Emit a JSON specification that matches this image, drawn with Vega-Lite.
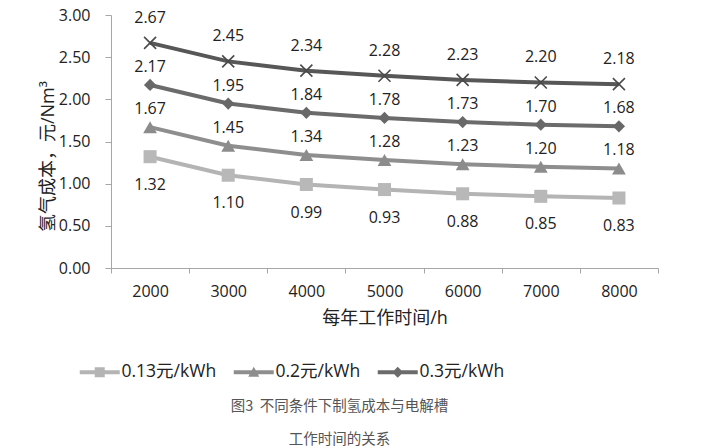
{
  "$schema": "https://vega.github.io/schema/vega-lite/v6.json",
  "width": 547,
  "height": 253,
  "autosize": "none",
  "padding": {"left": 111, "top": 15, "right": 44, "bottom": 180},
  "background": "white",
  "config": {
    "view": {"stroke": null},
    "font": "Open Sans, Noto Sans CJK SC",
    "axis": {"domainColor": "#a6a6a6", "tickColor": "#a6a6a6", "grid": false, "labelColor": "#222", "titleColor": "#222", "labelFont": "Open Sans, Noto Sans CJK SC", "titleFont": "Open Sans, Noto Sans CJK SC", "titleFontWeight": "normal"}
  },
  "title": {
    "text": ["图3\u00a0\u00a0不同条件下制氢成本与电解槽", "工作时间的关系"],
    "orient": "bottom",
    "anchor": "middle",
    "dx": -45,
    "offset": 19,
    "fontSize": 14.5,
    "lineHeight": 33,
    "fontWeight": "normal",
    "color": "#555",
    "font": "Noto Sans CJK SC"
  },
  "data": {
    "values": [
      {"h": "2000", "series": "0.13元/kWh", "v": 1.32},
      {"h": "3000", "series": "0.13元/kWh", "v": 1.10},
      {"h": "4000", "series": "0.13元/kWh", "v": 0.99},
      {"h": "5000", "series": "0.13元/kWh", "v": 0.93},
      {"h": "6000", "series": "0.13元/kWh", "v": 0.88},
      {"h": "7000", "series": "0.13元/kWh", "v": 0.85},
      {"h": "8000", "series": "0.13元/kWh", "v": 0.83},
      {"h": "2000", "series": "0.2元/kWh", "v": 1.67},
      {"h": "3000", "series": "0.2元/kWh", "v": 1.45},
      {"h": "4000", "series": "0.2元/kWh", "v": 1.34},
      {"h": "5000", "series": "0.2元/kWh", "v": 1.28},
      {"h": "6000", "series": "0.2元/kWh", "v": 1.23},
      {"h": "7000", "series": "0.2元/kWh", "v": 1.20},
      {"h": "8000", "series": "0.2元/kWh", "v": 1.18},
      {"h": "2000", "series": "0.3元/kWh", "v": 2.17},
      {"h": "3000", "series": "0.3元/kWh", "v": 1.95},
      {"h": "4000", "series": "0.3元/kWh", "v": 1.84},
      {"h": "5000", "series": "0.3元/kWh", "v": 1.78},
      {"h": "6000", "series": "0.3元/kWh", "v": 1.73},
      {"h": "7000", "series": "0.3元/kWh", "v": 1.70},
      {"h": "8000", "series": "0.3元/kWh", "v": 1.68},
      {"h": "2000", "series": "X", "v": 2.67},
      {"h": "3000", "series": "X", "v": 2.45},
      {"h": "4000", "series": "X", "v": 2.34},
      {"h": "5000", "series": "X", "v": 2.28},
      {"h": "6000", "series": "X", "v": 2.23},
      {"h": "7000", "series": "X", "v": 2.20},
      {"h": "8000", "series": "X", "v": 2.18}
    ]
  },
  "encoding": {
    "x": {
      "field": "h", "type": "nominal", "sort": null,
      "scale": {"type": "band", "paddingInner": 0, "paddingOuter": 0},
      "axis": {"labelAngle": 0, "tickBand": "extent", "tickSize": 5, "labelPadding": 10, "labelFontSize": 16, "title": "每年工作时间/h", "titleFontSize": 18, "titlePadding": 10}
    },
    "y": {
      "field": "v", "type": "quantitative",
      "scale": {"domain": [0, 3], "nice": false},
      "axis": {"values": [0, 0.5, 1, 1.5, 2, 2.5, 3], "format": ".2f", "tickSize": 6, "labelPadding": 15, "labelFontSize": 16, "title": "氢气成本，元/Nm³", "titleFontSize": 18, "titleX": -63, "titleY": 141, "titleBaseline": "middle", "titleAngle": -90}
    }
  },
  "layer": [
    {
      "mark": {"type": "line", "strokeWidth": 4},
      "encoding": {
        "color": {"field": "series", "type": "nominal", "scale": {"domain": ["0.13元/kWh", "0.2元/kWh", "0.3元/kWh", "X"], "range": ["#b4b4b4", "#8e8e8e", "#6b6b6b", "#575757"]}, "legend": {"orient": "none", "legendX": -20, "legendY": 348, "direction": "horizontal", "title": null, "values": ["0.13元/kWh", "0.2元/kWh", "0.3元/kWh"], "symbolSize": 100, "symbolStrokeWidth": 0, "symbolOpacity": 1, "labelFontSize": 17.5, "labelFont": "Open Sans, Noto Sans CJK SC", "labelColor": "#222", "labelOffset": 13, "columnPadding": 16}}
      }
    },
    {
      "transform": [{"filter": "datum.series === '0.13元/kWh'"}],
      "mark": {"type": "point", "shape": "square", "filled": true, "opacity": 1, "size": 170, "color": "#b8b8b8"}
    },
    {
      "transform": [{"filter": "datum.series === '0.2元/kWh'"}],
      "mark": {"type": "point", "shape": "triangle-up", "filled": true, "opacity": 1, "size": 190, "color": "#8c8c8c"}
    },
    {
      "transform": [{"filter": "datum.series === '0.3元/kWh'"}],
      "mark": {"type": "point", "shape": "diamond", "filled": true, "opacity": 1, "size": 150, "color": "#686868"}
    },
    {
      "transform": [{"filter": "datum.series === 'X'"}],
      "mark": {"type": "point", "shape": "M-1,-1L1,1M-1,1L1,-1", "filled": false, "opacity": 1, "size": 144, "strokeWidth": 1.6, "color": "#4a4a4a"}
    },
    {
      "transform": [{"filter": "datum.series === 'X'"}],
      "mark": {"type": "text", "dy": -25, "fontSize": 16, "color": "#222", "font": "Open Sans"},
      "encoding": {"text": {"field": "v", "type": "quantitative", "format": ".2f"}}
    },
    {
      "transform": [{"filter": "datum.series === '0.3元/kWh' || datum.series === '0.2元/kWh'"}],
      "mark": {"type": "text", "dy": -18, "fontSize": 16, "color": "#222", "font": "Open Sans"},
      "encoding": {"text": {"field": "v", "type": "quantitative", "format": ".2f"}}
    },
    {
      "transform": [{"filter": "datum.series === '0.13元/kWh'"}],
      "mark": {"type": "text", "dy": 28, "fontSize": 16, "color": "#222", "font": "Open Sans"},
      "encoding": {"text": {"field": "v", "type": "quantitative", "format": ".2f"}}
    },
    {
      "mark": {"type": "point", "filled": true, "opacity": 0},
      "encoding": {
        "color": {"field": "series", "type": "nominal", "legend": {"orient": "none", "legendX": -20, "legendY": 348, "direction": "horizontal", "title": null, "values": ["0.13元/kWh", "0.2元/kWh", "0.3元/kWh"], "symbolSize": 100, "symbolStrokeWidth": 0, "symbolOpacity": 1, "labelFontSize": 17.5, "labelFont": "Open Sans, Noto Sans CJK SC", "labelColor": "#222", "labelOffset": 13, "columnPadding": 16}},
        "shape": {"field": "series", "type": "nominal", "scale": {"domain": ["0.13元/kWh", "0.2元/kWh", "0.3元/kWh", "X"], "range": ["M-4,-0.4H4V0.4H-4Z M-1,-1H1V1H-1Z", "M-4,-0.4H4V0.4H-4Z M0,-1.1L1.1,0.9H-1.1Z", "M-4,-0.4H4V0.4H-4Z M0,-1.1L1.1,0L0,1.1L-1.1,0Z", "M-4,-0.4H4V0.4H-4Z"]}, "legend": {"orient": "none", "legendX": -20, "legendY": 348, "direction": "horizontal", "title": null, "values": ["0.13元/kWh", "0.2元/kWh", "0.3元/kWh"], "symbolSize": 100, "symbolStrokeWidth": 0, "symbolOpacity": 1, "labelFontSize": 17.5, "labelFont": "Open Sans, Noto Sans CJK SC", "labelColor": "#222", "labelOffset": 13, "columnPadding": 16}}
      }
    }
  ]
}
